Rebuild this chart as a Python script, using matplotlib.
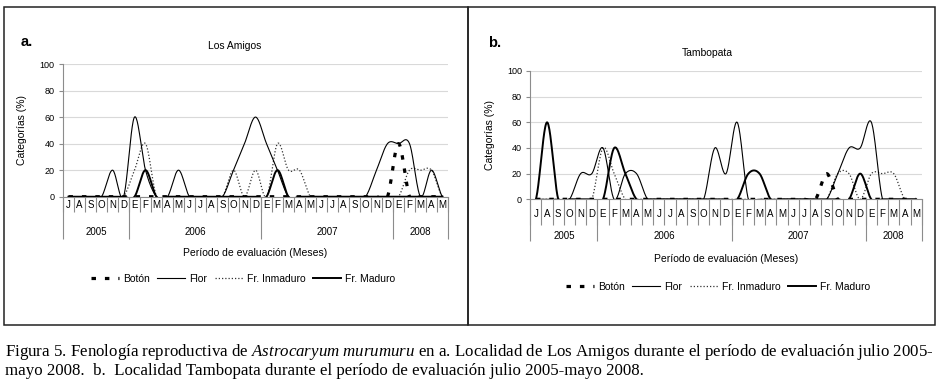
import numpy as np
import matplotlib
matplotlib.use("Agg")
import matplotlib.pyplot as plt
from matplotlib.lines import Line2D
from matplotlib.patches import Rectangle

plt.rcParams['font.family'] = ['Liberation Sans', 'DejaVu Sans']

# ---------------- data ----------------
months = ["J", "A", "S", "O", "N", "D",
          "E", "F", "M", "A", "M", "J", "J", "A", "S", "O", "N", "D",
          "E", "F", "M", "A", "M", "J", "J", "A", "S", "O", "N", "D",
          "E", "F", "M", "A", "M"]
years = ["2005", "2006", "2007", "2008"]
year_sizes = [6, 12, 12, 5]
series_names = ["Botón", "Flor", "Fr. Inmaduro", "Fr. Maduro"]

# a. Los Amigos
a_boton = [0, 0, 0, 0, 0, 0,
           0, 0, 0, 0, 0, 0, 0, 0, 0, 0, 0, 0,
           0, 0, 0, 0, 0, 0, 0, 0, 0, 0, 0, 0,
           40, 0, 0, 0, 0]
a_flor = [0, 0, 0, 0, 20, 0,
          60, 20, 0, 0, 20, 0, 0, 0, 0, 20, 40, 60,
          40, 20, 0, 0, 0, 0, 0, 0, 0, 0, 20, 40,
          40, 40, 0, 20, 0]
a_inmaduro = [0, 0, 0, 0, 0, 0,
              20, 40, 0, 0, 0, 0, 0, 0, 0, 20, 0, 20,
              0, 40, 20, 20, 0, 0, 0, 0, 0, 0, 0, 0,
              0, 20, 20, 20, 0]
a_maduro = [0, 0, 0, 0, 0, 0,
            0, 20, 0, 0, 0, 0, 0, 0, 0, 0, 0, 0,
            0, 20, 0, 0, 0, 0, 0, 0, 0, 0, 0, 0,
            0, 0, 0, 0, 0]

# b. Tambopata
b_boton = [0, 0, 0, 0, 0, 0,
           0, 0, 0, 0, 0, 0, 0, 0, 0, 0, 0, 0,
           0, 0, 0, 0, 0, 0, 0, 0, 20, 0, 0, 0,
           0, 0, 0, 0, 0]
b_flor = [0, 0, 0, 0, 20, 20,
          40, 0, 20, 20, 0, 0, 0, 0, 0, 0, 40, 20,
          60, 0, 0, 0, 0, 0, 0, 0, 0, 20, 40, 40,
          60, 0, 0, 0, 0]
b_inmaduro = [0, 0, 0, 0, 0, 0,
              40, 20, 0, 0, 0, 0, 0, 0, 0, 0, 0, 0,
              0, 0, 0, 0, 0, 0, 0, 0, 0, 20, 20, 0,
              20, 20, 20, 0, 0]
b_maduro = [0, 60, 0, 0, 0, 0,
            0, 40, 20, 0, 0, 0, 0, 0, 0, 0, 0, 0,
            0, 20, 20, 0, 0, 0, 0, 0, 0, 0, 0, 20,
            0, 0, 0, 0, 0]

# ---------------- helpers ----------------
W, H = 940, 385
fig = plt.figure(figsize=(W / 100, H / 100), dpi=100)


def fx(x):
    return x / W


def fy(y):
    return 1 - y / H


def smooth(ys, n=24):
    """Catmull-Rom (Excel-like smoothed line) through the data points."""
    y = np.asarray(ys, float)
    x = np.arange(len(y), dtype=float)
    yp = np.concatenate([[y[0]], y, [y[-1]]])
    t = np.linspace(0, 1, n, endpoint=False)
    h00 = 2 * t**3 - 3 * t**2 + 1
    h10 = t**3 - 2 * t**2 + t
    h01 = -2 * t**3 + 3 * t**2
    h11 = t**3 - t**2
    xs, ys_ = [], []
    for i in range(len(y) - 1):
        p0, p1, p2, p3 = yp[i], yp[i + 1], yp[i + 2], yp[i + 3]
        m1 = (p2 - p0) / 2
        m2 = (p3 - p1) / 2
        xs.append(x[i] + t)
        ys_.append(h00 * p1 + h10 * m1 + h01 * p2 + h11 * m2)
    xs.append([x[-1]])
    ys_.append([y[-1]])
    return np.concatenate(xs), np.concatenate(ys_)


styles = {
    "Botón": dict(color="black", lw=2.3, linestyle=(0, (1.4, 2.8)), dash_capstyle="butt", zorder=6),
    "Flor": dict(color="black", lw=0.8, linestyle="-", zorder=4),
    "Fr. Inmaduro": dict(color="#333333", lw=0.9, linestyle=(0, (1.0, 1.6)), zorder=3),
    "Fr. Maduro": dict(color="black", lw=1.4, linestyle="-", zorder=5),
}

GRID = "#d9d9d9"
AX = "#8c8c8c"


def make_panel(rect_px, data, title, title_xy, letter, letter_xy,
               month_pad, month_tick_len, year_pad, year_tick_len,
               xlabel_off, legend_xy, ylabel_x):
    x0, ytop, x1, ybot = rect_px
    ax = fig.add_axes([fx(x0), fy(ybot), fx(x1) - fx(x0), fy(ytop) - fy(ybot)])
    n = len(months)
    for name, vals in zip(series_names, data):
        xs, ys = smooth(vals)
        ax.plot(xs, ys, **styles[name])
    ax.set_xlim(-0.5, n - 0.5)
    ax.set_ylim(0, 100)
    ax.set_yticks([0, 20, 40, 60, 80, 100])
    ax.yaxis.grid(True, color=GRID, lw=0.8, zorder=0)
    ax.set_axisbelow(True)
    for s in ["top", "right"]:
        ax.spines[s].set_visible(False)
    ax.spines["left"].set_color(AX)
    ax.spines["bottom"].set_color(AX)
    ax.spines["left"].set_linewidth(0.8)
    ax.spines["bottom"].set_linewidth(0.8)
    ax.tick_params(axis="y", length=3, width=0.8, color=AX, labelsize=6.5, pad=3)
    # month labels
    ax.set_xticks(np.arange(n))
    ax.set_xticklabels(months)
    ax.tick_params(axis="x", which="major", length=0, labelsize=7, pad=month_pad)
    ax.set_xticks(np.arange(n + 1) - 0.5, minor=True)
    ax.tick_params(axis="x", which="minor", length=month_tick_len, width=0.8, color=AX)
    # year level
    bounds = np.concatenate([[0], np.cumsum(year_sizes)]) - 0.5
    centers = (bounds[:-1] + bounds[1:]) / 2
    sec = ax.secondary_xaxis("bottom")
    sec.spines["bottom"].set_visible(False)
    sec.set_xticks(bounds)
    sec.set_xticklabels([""] * len(bounds))
    sec.tick_params(axis="x", which="major", length=year_tick_len, width=0.8, color=AX)
    sec.set_xticks(centers, minor=True)
    sec.set_xticklabels(years, minor=True)
    sec.tick_params(axis="x", which="minor", length=0, labelsize=7, pad=year_pad)
    # labels
    ax.annotate("Período de evaluación (Meses)", xy=(0.5, 0), xycoords="axes fraction",
                xytext=(0, -xlabel_off), textcoords="offset points",
                ha="center", va="center", fontsize=7.5)
    ax.set_ylabel("Categorías (%)", fontsize=7.5)
    ax.yaxis.set_label_coords(ylabel_x, 0.5)
    fig.text(fx(title_xy[0]), fy(title_xy[1]), title, ha="center", va="center", fontsize=7.5)
    fig.text(fx(letter_xy[0]), fy(letter_xy[1]), letter, ha="left", va="center",
             fontsize=10.5, fontweight="bold")
    handles = [Line2D([], [], **{k: v for k, v in styles[nm].items() if k != "zorder"})
               for nm in series_names]
    fig.legend(handles, series_names, loc="center",
               bbox_to_anchor=(fx(legend_xy[0]), fy(legend_xy[1])),
               ncol=4, frameon=False, fontsize=7.5, handlelength=2.7,
               handletextpad=0.4, columnspacing=0.7, borderpad=0)
    return ax


make_panel((63, 64, 448, 196.7), [a_boton, a_flor, a_inmaduro, a_maduro],
           "Los Amigos", (235, 46), "a.", (21, 42),
           month_pad=2.2, month_tick_len=10.8, year_pad=22, year_tick_len=30,
           xlabel_off=40.3, legend_xy=(243, 279), ylabel_x=-0.094)

make_panel((530.3, 71, 921.7, 199.3), [b_boton, b_flor, b_inmaduro, b_maduro],
           "Tambopata", (707, 53), "b.", (488, 43),
           month_pad=7, month_tick_len=18.5, year_pad=22.5, year_tick_len=30.5,
           xlabel_off=43.2, legend_xy=(718, 287), ylabel_x=-0.09)

# panel boxes
for (l, t, r, b) in [(4, 7, 468, 325), (468, 7, 935, 325)]:
    fig.add_artist(Rectangle((fx(l), fy(b)), fx(r) - fx(l), fy(t) - fy(b),
                             transform=fig.transFigure, fill=False,
                             edgecolor="#222222", lw=1.1))

# caption
plt.rcParams['mathtext.fontset'] = 'custom'
plt.rcParams['mathtext.rm'] = 'Liberation Serif'
plt.rcParams['mathtext.it'] = 'Liberation Serif:italic'
cap1 = (r"Figura 5. Fenología reproductiva de $\mathit{Astrocaryum\ murumuru}$ en a. "
        r"Localidad de Los Amigos durante el período de evaluación julio 2005-")
cap2 = "mayo 2008.  b.  Localidad Tambopata durante el período de evaluación julio 2005-mayo 2008."
t1 = fig.text(fx(5), fy(352), cap1, ha="left", va="center", fontsize=12,
              family=["Liberation Serif", "DejaVu Serif"])
t2 = fig.text(fx(5), fy(371), cap2, ha="left", va="center", fontsize=12,
              family=["Liberation Serif", "DejaVu Serif"])
fig.canvas.draw()
r = fig.canvas.get_renderer()
w1 = t1.get_window_extent(r).width
scale = 930.0 / w1
t1.set_fontsize(12 * scale)
t2.set_fontsize(12 * scale)

fig.savefig("out.png", dpi=100)
